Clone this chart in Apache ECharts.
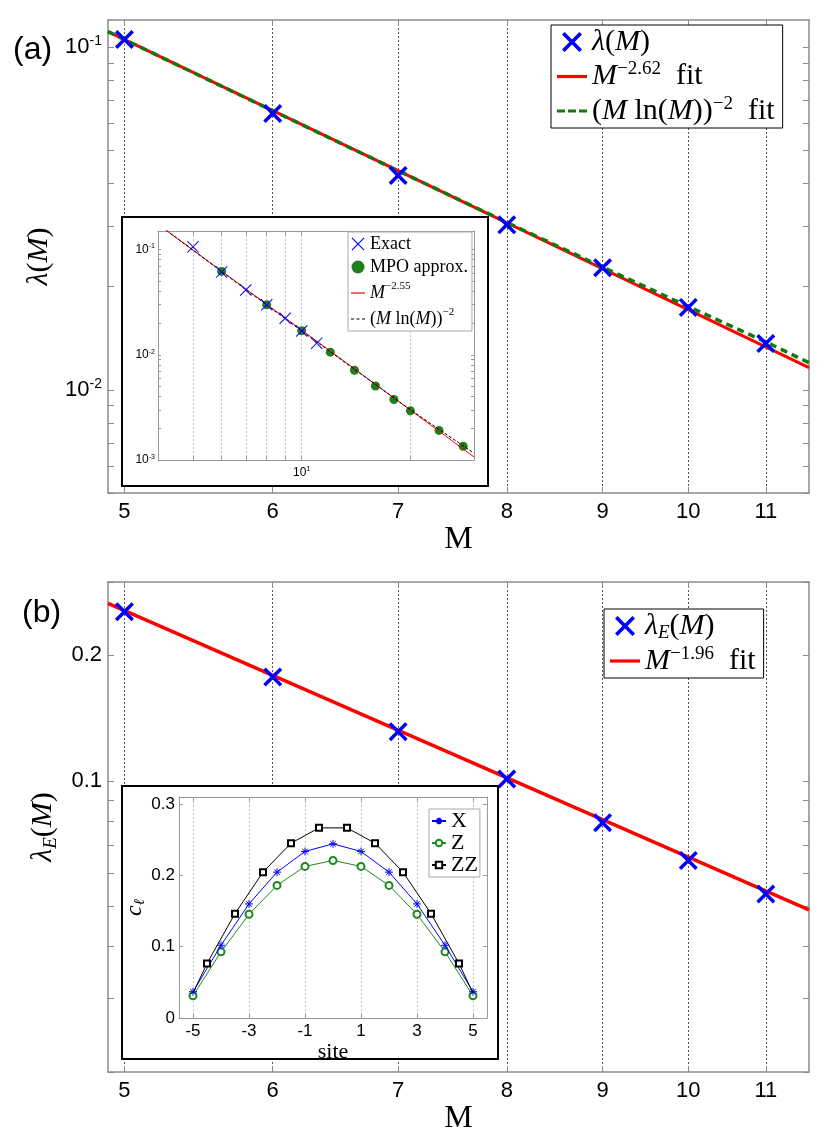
<!DOCTYPE html>
<html><head><meta charset="utf-8">
<script src="https://cdn.jsdelivr.net/npm/echarts@6/dist/echarts.min.js"></script>
<style>html,body{margin:0;padding:0;background:#fff}#c{width:831px;height:1138px}</style>
</head><body><div id="c"></div>
<script>
// ---------- data ----------
// panel (a) main
const M_A = [5, 6, 7, 8, 9, 10, 11];
const lambdaA = [0.1053, 0.064, 0.0422, 0.0303, 0.0227, 0.0174, 0.01365];
const fitA_M = [4.9, 11.6];
const fitA_val = [0.111, 0.01161];
const fitA2_M = [4.9, 6, 7, 8, 9, 10, 11, 11.6];
const fitA2_val = [0.111, 0.0652, 0.0436, 0.0308, 0.0228, 0.0175, 0.0138, 0.0120];
// panel (a) inset
const exactM = [5, 6, 7, 8, 9, 10, 11];
const exactVal = [0.106, 0.061, 0.0412, 0.0298, 0.0222, 0.0168, 0.0129];
const mpoM = [6, 8, 10, 12, 14, 16, 18, 20, 24, 28];
const mpoVal = [0.062, 0.0298, 0.0169, 0.01058, 0.00713, 0.00505, 0.00376, 0.00294, 0.00191, 0.00135];
const fitI_M = [4, 30];
const fitI_val = [0.174, 0.00107];
const fitI2_M = [4, 10, 20, 30];
const fitI2_val = [0.174, 0.0168, 0.0030, 0.00116];
// panel (b) main
const M_B = [5, 6, 7, 8, 9, 10, 11];
const lambdaE = [0.2544, 0.1774, 0.1312, 0.101, 0.0793, 0.0644, 0.0535];
const fitB_M = [4.9, 11.6];
const fitB_val = [0.2666, 0.0490];
// panel (b) inset
const sitesInt = [-5, -4, -3, -2, -1, 0, 1, 2, 3, 4, 5];
const cX = [0.0368, 0.102, 0.160, 0.2046, 0.2336, 0.2443, 0.2336, 0.2046, 0.160, 0.102, 0.0368];
const cZ = [0.0312, 0.0928, 0.1455, 0.186, 0.2126, 0.221, 0.2126, 0.186, 0.1455, 0.0928, 0.0312];
const sitesHalf = [-5, -4.5, -3.5, -2.5, -1.5, -0.5, 0.5, 1.5, 2.5, 3.5, 4.5, 5];
const cZZ = [0.035, 0.0765, 0.1464, 0.2046, 0.2452, 0.2667, 0.2667, 0.2452, 0.2046, 0.1464, 0.0765, 0.035];
// tick values / labels
const M_TICKS = [5, 6, 7, 8, 9, 10, 11];
const YA_TICKS = [0.005, 0.006, 0.007, 0.008, 0.009, 0.01, 0.02, 0.03, 0.04, 0.05, 0.06, 0.07, 0.08, 0.09, 0.1];
const YA_LABELS = [0.01, 0.1];
const YB_TICKS = [0.02, 0.03, 0.04, 0.05, 0.06, 0.07, 0.08, 0.09, 0.1, 0.2, 0.3];
const YB_LABELS = [0.1, 0.2];
const IA_X_TICKS = [5, 6, 7, 8, 9, 10, 20];
const IA_X_LABELS = [10];
const IA_Y_TICKS = [0.002, 0.003, 0.004, 0.005, 0.006, 0.007, 0.008, 0.009, 0.01, 0.02, 0.03, 0.04, 0.05, 0.06, 0.07, 0.08, 0.09, 0.1];
const IA_Y_LABELS = [0.001, 0.01, 0.1];
const IB_X_TICKS = [-5, -3, -1, 1, 3, 5];
const IB_Y_TICKS = [0, 0.1, 0.2, 0.3];

// ---------- styling helpers ----------
const SERIF = 'Liberation Serif';
const SANS = 'Liberation Sans';
const SYM_X = 'path://M0,1.3L1.3,0L5,3.7L8.7,0L10,1.3L6.3,5L10,8.7L8.7,10L5,6.3L1.3,10L0,8.7L3.7,5Z';
const SYM_XT = 'path://M0,0.6L0.6,0L5,4.4L9.4,0L10,0.6L5.6,5L10,9.4L9.4,10L5,5.6L0.6,10L0,9.4L4.4,5Z';
const SYM_AST = 'path://M1.5,1.5L8.5,8.5M8.5,1.5L1.5,8.5M5,0L5,10M0,5L10,5';
const ICON_SOLID = 'path://M0,0L30,0L30,3.2L0,3.2Z';
const ICON_DASH = 'path://M0,0L8,0L8,3.2L0,3.2ZM11,0L19,0L19,3.2L11,3.2ZM22,0L30,0L30,3.2L22,3.2Z';
const ICON_SOLID_T = 'path://M0,0L14,0L14,1.2L0,1.2Z';
const ICON_DASH_T = 'path://M0,0L3,0L3,1.2L0,1.2ZM5.5,0L8.5,0L8.5,1.2L5.5,1.2ZM11,0L14,0L14,1.2L11,1.2Z';
const BLUE = '#0000ff', RED = '#ff0000', GREEN = '#0f7a0f';
const AXC = '#8a8a8a';

function pairs(xs, ys) { return xs.map((x, i) => [x, ys[i]]); }
function richMath(fs, lh) {
  return {
    i: {fontFamily: SERIF, fontStyle: 'italic', fontSize: fs, lineHeight: lh, color: '#000'},
    r: {fontFamily: SERIF, fontSize: fs, lineHeight: lh, color: '#000'},
    s: {fontFamily: SERIF, fontSize: Math.round(fs * 0.62), lineHeight: Math.round(fs * 0.62), verticalAlign: 'top', color: '#000'},
    u: {fontFamily: SERIF, fontStyle: 'italic', fontSize: Math.round(fs * 0.62), lineHeight: Math.round(fs * 0.62), verticalAlign: 'bottom', color: '#000'}
  };
}
function expLabel(fs) {
  return {
    formatter: v => '{b|10}{s|' + Math.round(Math.log10(v)) + '}',
    rich: {
      b: {fontFamily: SANS, fontSize: fs, color: '#000'},
      s: {fontFamily: SANS, fontSize: Math.round(fs * 0.62), verticalAlign: 'top', color: '#000', padding: [0, 0, Math.round(fs * 0.5), 0]}
    }
  };
}
function axis(o) {
  const a = {
    type: o.type, gridIndex: o.g, min: o.min, max: o.max, position: o.pos, z: o.z || 0,
    logBase: 10,
    axisLine: {show: true, onZero: false, lineStyle: {color: o.lc || AXC, width: o.lw || 1.5}},
    axisTick: {show: true, inside: true, length: o.tl || 6, customValues: o.ticks, lineStyle: {color: o.lc || AXC, width: 1}},
    axisLabel: {show: !!o.labels, customValues: o.labels, margin: o.margin || 8, color: '#000', fontFamily: SANS, fontSize: o.fs || 22},
    splitLine: {show: !!o.split, lineStyle: {color: o.split || '#555', type: [2, 2], width: 1}},
    minorTick: {show: false}, minorSplitLine: {show: false}
  };
  if (o.labelExtra) Object.assign(a.axisLabel, o.labelExtra);
  if (o.name) {
    a.name = o.name; a.nameLocation = 'middle'; a.nameGap = o.nameGap; a.nameRotate = o.nameRotate || 0;
    a.nameTextStyle = o.nameStyle;
  }
  return a;
}

const LEG_TEXT = {
  lamA: '{i|λ}{r|(}{i|M}{r|)}',
  fitA: '{i|M}{s|−2.62}{r|  fit}',
  fitA2: '{r|(}{i|M}{r| ln(}{i|M}{r|))}{s|−2}{r|  fit}',
  exactI: '{r|Exact}',
  mpoI: '{r|MPO approx.}',
  fitI: '{i|M}{s|−2.55}',
  fitI2: '{r|(}{i|M}{r| ln(}{i|M}{r|))}{s|−2}',
  lamB: '{i|λ}{u|E}{r|(}{i|M}{r|)}',
  fitB: '{i|M}{s|−1.96}{r|  fit}',
  cX: '{r|X}', cZ: '{r|Z}', cZZ: '{r|ZZ}'
};
function legend(o) {
  return {
    data: o.data, orient: 'vertical', left: o.left, top: o.top, z: o.z || 6,
    padding: o.padding, itemGap: o.gap, itemWidth: o.iw, itemHeight: o.ih,
    backgroundColor: '#fff', borderColor: o.bc || '#000', borderWidth: 1, borderRadius: 0,
    selectedMode: false, symbolKeepAspect: true,
    textStyle: {color: '#000', fontFamily: SERIF, fontSize: o.fs, rich: richMath(o.fs, o.lh)},
    formatter: n => LEG_TEXT[n]
  };
}

const xNameStyle = {fontFamily: SERIF, fontSize: 32, color: '#000'};
const yNameStyle = {rich: richMath(30, 34)};

const option = {
  animation: false,
  backgroundColor: '#fff',
  grid: [
    {left: 108, top: 20, width: 701, height: 473, containLabel: false, outerBoundsMode: 'none'},
    {left: 158, top: 231, width: 316, height: 229, containLabel: false, outerBoundsMode: 'none'},
    {left: 108, top: 582, width: 701, height: 490, containLabel: false, outerBoundsMode: 'none'},
    {left: 179, top: 797, width: 308, height: 221, containLabel: false, outerBoundsMode: 'none'}
  ],
  xAxis: [
    axis({type: 'log', g: 0, min: 4.9, max: 11.6, pos: 'bottom', ticks: M_TICKS, labels: M_TICKS, split: '#555',
      labelExtra: {formatter: v => String(Math.round(v))}, name: 'M', nameGap: 22, nameStyle: xNameStyle}),
    axis({type: 'log', g: 0, min: 4.9, max: 11.6, pos: 'top', ticks: M_TICKS}),
    axis({type: 'log', g: 1, min: 4, max: 30, pos: 'bottom', z: 21, lc: '#999', lw: 1, tl: 4, ticks: IA_X_TICKS, labels: IA_X_LABELS, split: '#c4c4c4', margin: 6,
      labelExtra: expLabel(12)}),
    axis({type: 'log', g: 1, min: 4, max: 30, pos: 'top', z: 21, lc: '#999', lw: 1, tl: 4, ticks: IA_X_TICKS}),
    axis({type: 'log', g: 2, min: 4.9, max: 11.6, pos: 'bottom', ticks: M_TICKS, labels: M_TICKS, split: '#555',
      labelExtra: {formatter: v => String(Math.round(v))}, name: 'M', nameGap: 22, nameStyle: xNameStyle}),
    axis({type: 'log', g: 2, min: 4.9, max: 11.6, pos: 'top', ticks: M_TICKS}),
    axis({type: 'value', g: 3, min: -5.5, max: 5.5, pos: 'bottom', z: 21, lc: '#999', lw: 1, tl: 4, ticks: IB_X_TICKS, labels: IB_X_TICKS, split: '#c4c4c4', margin: 5, fs: 17,
      labelExtra: {formatter: v => String(Math.round(v))}, name: 'site', nameGap: 17, nameStyle: {fontFamily: SERIF, fontSize: 22, color: '#000'}}),
    axis({type: 'value', g: 3, min: -5.5, max: 5.5, pos: 'top', z: 21, lc: '#999', lw: 1, tl: 4, ticks: IB_X_TICKS})
  ],
  yAxis: [
    axis({type: 'log', g: 0, min: 0.005, max: 0.12, pos: 'left', ticks: YA_TICKS, labels: YA_LABELS, margin: 6,
      labelExtra: expLabel(22), name: '{i|λ}{r|(}{i|M}{r|)}', nameGap: 45, nameRotate: 90, nameStyle: yNameStyle}),
    axis({type: 'log', g: 0, min: 0.005, max: 0.12, pos: 'right', ticks: YA_TICKS}),
    axis({type: 'log', g: 1, min: 0.001, max: 0.15, pos: 'left', z: 21, lc: '#999', lw: 1, tl: 3, ticks: IA_Y_TICKS, labels: IA_Y_LABELS, margin: 3,
      labelExtra: expLabel(12)}),
    axis({type: 'log', g: 1, min: 0.001, max: 0.15, pos: 'right', z: 21, lc: '#999', lw: 1, tl: 3, ticks: IA_Y_TICKS}),
    axis({type: 'log', g: 2, min: 0.02, max: 0.3, pos: 'left', ticks: YB_TICKS, labels: YB_LABELS, margin: 6,
      labelExtra: {formatter: v => v.toFixed(1)}, name: '{i|λ}{u|E}{r|(}{i|M}{r|)}', nameGap: 45, nameRotate: 90, nameStyle: yNameStyle}),
    axis({type: 'log', g: 2, min: 0.02, max: 0.3, pos: 'right', ticks: YB_TICKS}),
    axis({type: 'value', g: 3, min: 0, max: 0.31, pos: 'left', z: 21, lc: '#999', lw: 1, tl: 4, ticks: IB_Y_TICKS, labels: IB_Y_TICKS, margin: 4, fs: 17,
      labelExtra: {formatter: v => (v === 0 ? '0' : v.toFixed(1))}, name: '{i|c}{u|ℓ}', nameGap: 28, nameRotate: 90, nameStyle: {rich: richMath(24, 26)}}),
    axis({type: 'value', g: 3, min: 0, max: 0.31, pos: 'right', z: 21, lc: '#999', lw: 1, tl: 4, ticks: IB_Y_TICKS})
  ],
  legend: [
    legend({data: ['lamA', {name: 'fitA', icon: ICON_SOLID}, {name: 'fitA2', icon: ICON_DASH}], left: 551, top: 25,
      padding: [2, 8, 2, 6], gap: 3, iw: 30, ih: 20, fs: 30, lh: 33}),
    legend({data: ['exactI', 'mpoI', {name: 'fitI', icon: ICON_SOLID_T}, {name: 'fitI2', icon: ICON_DASH_T}], left: 348, top: 232,
      padding: [3, 4, 3, 3], gap: 5, iw: 14, ih: 13, fs: 18, lh: 24, bc: '#aaa', z: 30}),
    legend({data: ['lamB', {name: 'fitB', icon: ICON_SOLID}], left: 604, top: 609, padding: [2, 8, 2, 6], gap: 2, iw: 30, ih: 20, fs: 30, lh: 33}),
    legend({data: ['cX', 'cZ', 'cZZ'], left: 429, top: 809, padding: [1, 2, 1, 2], gap: 0, iw: 14, ih: 8, fs: 22, lh: 19, bc: '#aaa', z: 30})
  ],
  graphic: {elements: [
    {type: 'rect', z: 15, shape: {x: 122, y: 217, width: 366, height: 269}, style: {fill: '#fff', stroke: '#000', lineWidth: 2}},
    {type: 'rect', z: 15, shape: {x: 122, y: 786, width: 376, height: 273}, style: {fill: '#fff', stroke: '#000', lineWidth: 2}},
    {type: 'text', z: 15, x: 13, y: 50, style: {text: '(a)', fontFamily: SANS, fontSize: 32, fill: '#000', verticalAlign: 'middle'}},
    {type: 'text', z: 15, x: 22, y: 613, style: {text: '(b)', fontFamily: SANS, fontSize: 32, fill: '#000', verticalAlign: 'middle'}}
  ]},
  series: [
    // (a) main
    {name: 'fitA', type: 'line', xAxisIndex: 0, yAxisIndex: 0, z: 3, symbol: 'none', data: pairs(fitA_M, fitA_val),
      lineStyle: {color: RED, width: 3}, itemStyle: {color: RED}},
    {name: 'fitA2', type: 'line', xAxisIndex: 0, yAxisIndex: 0, z: 4, symbol: 'none', data: pairs(fitA2_M, fitA2_val),
      lineStyle: {color: GREEN, width: 3.5, type: [7, 5]}, itemStyle: {color: GREEN}},
    {name: 'lamA', type: 'scatter', xAxisIndex: 0, yAxisIndex: 0, z: 5, symbol: SYM_X, symbolSize: 19, symbolKeepAspect: true,
      data: pairs(M_A, lambdaA), itemStyle: {color: BLUE, opacity: 1}},
    // (a) inset
    {name: 'mpoI', type: 'scatter', xAxisIndex: 2, yAxisIndex: 2, z: 22, symbol: 'circle', symbolSize: 9,
      data: pairs(mpoM, mpoVal), itemStyle: {color: '#1d7f1d', opacity: 1}},
    {name: 'fitI', type: 'line', xAxisIndex: 2, yAxisIndex: 2, z: 23, symbol: 'none', data: pairs(fitI_M, fitI_val),
      lineStyle: {color: RED, width: 1}, itemStyle: {color: RED}},
    {name: 'fitI2', type: 'line', xAxisIndex: 2, yAxisIndex: 2, z: 23, symbol: 'none', data: pairs(fitI2_M, fitI2_val),
      lineStyle: {color: '#000', width: 1, type: [3, 2]}, itemStyle: {color: '#000'}},
    {name: 'exactI', type: 'scatter', xAxisIndex: 2, yAxisIndex: 2, z: 24, symbol: SYM_XT, symbolSize: 12, symbolKeepAspect: true,
      data: pairs(exactM, exactVal), itemStyle: {color: BLUE, opacity: 1}},
    // (b) main
    {name: 'fitB', type: 'line', xAxisIndex: 4, yAxisIndex: 4, z: 3, symbol: 'none', data: pairs(fitB_M, fitB_val),
      lineStyle: {color: RED, width: 3.5}, itemStyle: {color: RED}},
    {name: 'lamB', type: 'scatter', xAxisIndex: 4, yAxisIndex: 4, z: 5, symbol: SYM_X, symbolSize: 19, symbolKeepAspect: true,
      data: pairs(M_B, lambdaE), itemStyle: {color: BLUE, opacity: 1}},
    // (b) inset
    {name: 'cZ', type: 'line', xAxisIndex: 6, yAxisIndex: 6, z: 22, symbol: 'emptyCircle', symbolSize: 7, showSymbol: true,
      data: pairs(sitesInt, cZ), lineStyle: {color: '#1d8a1d', width: 1}, itemStyle: {color: '#1d8a1d', borderColor: '#1d8a1d', borderWidth: 1}},
    {name: 'cX', type: 'line', xAxisIndex: 6, yAxisIndex: 6, z: 23, symbol: SYM_AST, symbolSize: 8, showSymbol: true,
      data: pairs(sitesInt, cX), lineStyle: {color: BLUE, width: 1}, itemStyle: {color: BLUE, borderColor: BLUE, borderWidth: 1}},
    {name: 'cZZ', type: 'line', xAxisIndex: 6, yAxisIndex: 6, z: 24, symbol: 'emptyRect', symbolSize: 6, showSymbol: true,
      data: sitesHalf.map((s, i) => (i === 0 || i === sitesHalf.length - 1) ? {value: [s, cZZ[i]], symbol: 'none'} : [s, cZZ[i]]),
      lineStyle: {color: '#000', width: 1}, itemStyle: {color: '#000', borderColor: '#000', borderWidth: 1}}
  ]
};
const chart = echarts.init(document.getElementById('c'), null, {renderer: 'canvas', width: 831, height: 1138});
chart.setOption(option);
</script></body></html>
